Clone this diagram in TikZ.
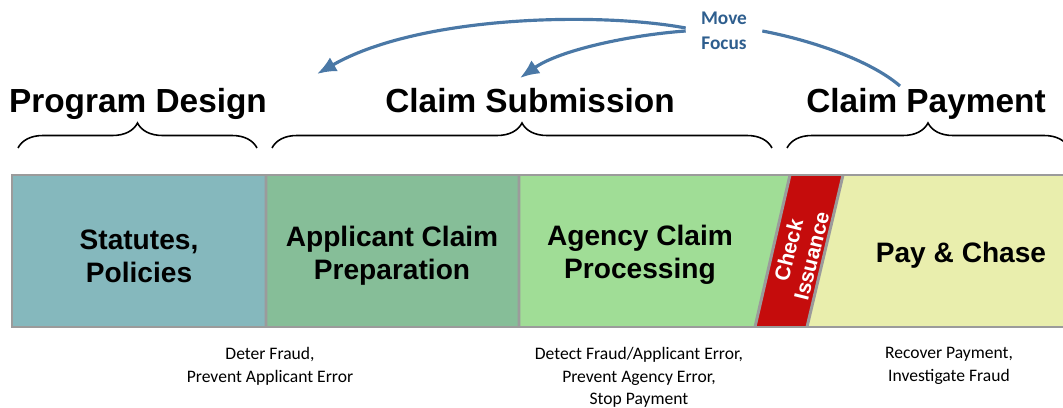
\documentclass[tikz,border=0pt]{standalone}
\usepackage{fontspec}
\setmainfont{Liberation Sans}
\newfontfamily\calib{Carlito}
\usetikzlibrary{decorations.pathreplacing,arrows.meta,calc}
\definecolor{tealc}{HTML}{85B8BD}
\definecolor{applc}{HTML}{86BE98}
\definecolor{agenc}{HTML}{A0DD96}
\definecolor{redc}{HTML}{C50C0C}
\definecolor{yelc}{HTML}{E9EEAD}
\definecolor{bandgray}{HTML}{9B9B9B}
\definecolor{arrowblue}{HTML}{4A78A6}
\definecolor{focusblue}{HTML}{2E5E8E}
\begin{document}
\begin{tikzpicture}[x=0.02cm,y=-0.02cm]
\tikzset{
 band/.style={draw=bandgray, line width=1.7pt, line join=miter},
 boxtext/.style={font=\fontsize{16}{18.7}\selectfont\bfseries, align=center, text=black},
 hdr/.style={font=\fontsize{19}{22}\selectfont\bfseries, anchor=base},
 note/.style={font=\calib\fontsize{10}{12.8}\selectfont, align=center, anchor=north, inner sep=0pt},
 brc/.style={decorate, decoration={brace, amplitude=0.5cm}, line width=0.9pt},
 flow/.style={draw=arrowblue, line width=1.8pt},
 arr/.style={flow, -{Latex[length=11pt,width=9pt]}},
}
\useasboundingbox (0,0) rectangle (1063,408);
% band fills
\fill[tealc] (12,175) rectangle (266,327);
\fill[applc] (266,175) rectangle (519,327);
\fill[agenc] (519,175) -- (790,175) -- (755,327) -- (519,327) -- cycle;
\fill[redc] (790,175) -- (843,175) -- (807,327) -- (755,327) -- cycle;
\fill[yelc] (843,175) -- (1075,175) -- (1075,327) -- (807,327) -- cycle;
% borders
\draw[band] (1075,175) -- (12,175) -- (12,327) -- (1075,327);
\draw[band] (266,175) -- (266,327) (519,175) -- (519,327)
            (790,175) -- (755,327) (843,175) -- (807,327);
% box texts
\node[boxtext] (stat) at (139,256) {Statutes,\\Policies};
\node[boxtext] (appl) at (392,256) {Applicant Claim\\Preparation};
\node[boxtext] (agen) at (640,255) {Agency Claim\\Processing};
\node[boxtext, text=white, rotate=76, inner sep=0pt, font=\fontsize{12}{13.5}\selectfont\bfseries] (chk) at (800,253) {Check\\Issuance};
\node[boxtext] (pay) at (961,255) {Pay \& Chase};
% headers
\node[hdr] (pd) at (138,113) {Program Design};
\node[hdr] (cs) at (530,113) {Claim Submission};
\node[hdr] (cp) at (926,113) {Claim Payment};
% braces
\draw[brc] (18,148) -- (257,148);
\draw[brc] (272,148) -- (772,148);
\draw[brc] (787,148) -- (1069,148);
% notes
\node[note] (n1) at (270,347) {Deter Fraud,\\Prevent Applicant Error};
\node[note] (n2) at (639,347) {Detect Fraud/Applicant Error,\\Prevent Agency Error,\\Stop Payment};
\node[note] (n3) at (949,347) {Recover Payment,\\Investigate Fraud};
% move focus
\node[font=\calib\bfseries\fontsize{11}{14}\selectfont, text=focusblue, align=center, inner xsep=0.3cm] (mf) at (724,31) {Move\\Focus};
\coordinate (pdIn) at (317,74);
\coordinate (csIn) at (520,78);
\coordinate (cpTop) at (900,86);
\draw[arr] ($(mf.west)+(0,-3)$) .. controls (600,12) and (420,15) .. (pdIn);
\draw[arr] (mf.west) .. controls (630,35) and (560,50) .. (csIn);
\draw[flow] (mf.east) .. controls (810,40) and (870,60) .. (cpTop);
\end{tikzpicture}
\end{document}
